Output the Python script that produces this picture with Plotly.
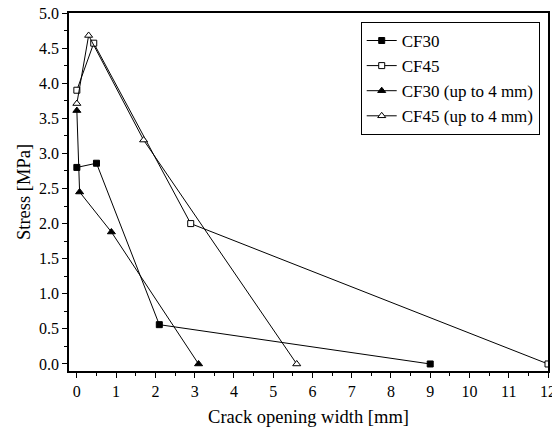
import plotly.graph_objects as go

cf30_x = [0, 0.5, 2.1, 9]
cf30_y = [2.8, 2.86, 0.56, 0]
cf45_x = [0, 0.43, 2.9, 12]
cf45_y = [3.9, 4.57, 2.0, 0]
cf30u_x = [0, 0.07, 0.88, 3.1]
cf30u_y = [3.61, 2.45, 1.88, 0]
cf45u_x = [0, 0.3, 1.7, 5.6]
cf45u_y = [3.71, 4.68, 3.19, 0]

names = ["CF30", "CF45", "CF30 (up to 4 mm)", "CF45 (up to 4 mm)"]

fig = go.Figure()
series = [
    (cf30_x, cf30_y, "square", "black"),
    (cf45_x, cf45_y, "square", "white"),
    (cf30u_x, cf30u_y, "triangle-up", "black"),
    (cf45u_x, cf45u_y, "triangle-up", "white"),
]
for (x, y, sym, fill), name in zip(series, names):
    fig.add_trace(go.Scatter(
        x=x, y=y, name=name, mode="lines+markers",
        line=dict(color="black", width=1),
        marker=dict(symbol=sym, size=7 if sym.startswith("triangle") else 6,
                    color=fill, line=dict(color="black", width=1)),
    ))

font = "Liberation Serif"
fig.update_layout(
    width=552, height=432,
    margin=dict(l=69, r=4, t=13, b=61),
    plot_bgcolor="white", paper_bgcolor="white",
    font=dict(family=font, size=16, color="black"),
    showlegend=True,
    legend=dict(x=0.609, y=0.975, xanchor="left", yanchor="top",
                bordercolor="black", borderwidth=1, bgcolor="white",
                font=dict(family=font, size=17), tracegroupgap=0,
                itemwidth=30),
)
fig.update_xaxes(
    range=[-0.2, 12], tickmode="linear", tick0=0, dtick=1, automargin=False,
    showgrid=False, zeroline=False, showline=True, linecolor="black", linewidth=1.5,
    mirror=True, ticks="outside", ticklen=5, tickwidth=1, tickcolor="black",
    minor=dict(ticks="outside", ticklen=3, dtick=0.5, tick0=0, tickcolor="black", showgrid=False),
    title=dict(text="Crack opening width [mm]", font=dict(family=font, size=18.5), standoff=11),
    tickfont=dict(family=font, size=16), ticklabeloverflow="allow",
)
fig.update_yaxes(
    range=[-0.1, 5.0], tickmode="linear", tick0=0, dtick=0.5, tickformat=".1f", automargin=False,
    showgrid=False, zeroline=False, showline=True, linecolor="black", linewidth=1.5,
    mirror=True, ticks="outside", ticklen=5, tickwidth=1, tickcolor="black",
    minor=dict(ticks="outside", ticklen=3, dtick=0.25, tick0=0, tickcolor="black", showgrid=False),
    title=dict(text="Stress [MPa]", font=dict(family=font, size=18.5), standoff=4),
    tickfont=dict(family=font, size=16),
)
fig.write_html("out.html")
